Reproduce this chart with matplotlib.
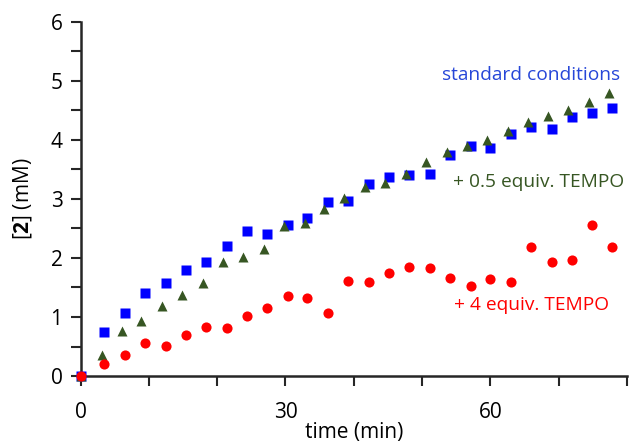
import matplotlib.pyplot as plt
from matplotlib.ticker import MultipleLocator

# values
t_std = [0, 3.5, 6.5, 9.5, 12.5, 15.4, 18.4, 21.4, 24.3, 27.3, 30.3, 33.2, 36.2, 39.2,
         42.2, 45.2, 48.1, 51.1, 54.1, 57.1, 60.0, 63.0, 66.0, 69.0, 71.9, 74.9, 77.8]
c_std = [0, 0.74, 1.06, 1.40, 1.57, 1.79, 1.93, 2.21, 2.45, 2.40, 2.55, 2.67, 2.94, 2.97,
         3.26, 3.37, 3.41, 3.42, 3.74, 3.89, 3.86, 4.10, 4.22, 4.18, 4.39, 4.46, 4.54]

t_half = [0, 3.1, 6.0, 8.9, 11.9, 14.9, 17.9, 20.9, 23.8, 26.8, 29.8, 32.8, 35.7, 38.6,
          41.6, 44.6, 47.7, 50.6, 53.6, 56.5, 59.5, 62.5, 65.5, 68.4, 71.3, 74.4, 77.4]
c_half = [0, 0.36, 0.76, 0.93, 1.19, 1.37, 1.58, 1.93, 2.02, 2.16, 2.54, 2.60, 2.83, 3.02,
          3.20, 3.27, 3.42, 3.63, 3.79, 3.89, 4.00, 4.15, 4.30, 4.40, 4.51, 4.65, 4.80]

t_four = t_std
c_four = [0, 0.21, 0.36, 0.56, 0.51, 0.69, 0.83, 0.82, 1.02, 1.16, 1.36, 1.33, 1.06, 1.61,
          1.60, 1.75, 1.85, 1.83, 1.66, 1.53, 1.64, 1.59, 2.18, 1.93, 1.96, 2.55, 2.18]

BLUE = '#0000ff'
GREEN = '#375623'
RED = '#ff0000'

plt.rcParams['font.family'] = ['Open Sans', 'DejaVu Sans']
plt.rcParams['mathtext.fontset'] = 'custom'
plt.rcParams['mathtext.rm'] = 'Open Sans'
plt.rcParams['mathtext.bf'] = 'Open Sans:bold'

fig = plt.figure(figsize=(6.29, 4.45), dpi=100)
ax = fig.add_axes([0.128, 0.155, 0.869, 0.796])

ax.plot(t_std, c_std, 's', color=BLUE, ms=7, mec='none', zorder=3, clip_on=False)
ax.plot(t_half, c_half, '^', color=GREEN, ms=7.5, mec='none', zorder=3, clip_on=False)
ax.plot(t_four, c_four, 'o', color=RED, ms=7.3, mec='none', zorder=4, clip_on=False)

ax.text(79.0, 5.1, 'standard conditions', color='#2646d8', fontsize=13.8,
        ha='right', va='center')
ax.text(79.5, 3.28, '+ 0.5 equiv. TEMPO', color=GREEN, fontsize=13.8,
        ha='right', va='center')
ax.text(77.3, 1.2, '+ 4 equiv. TEMPO', color=RED, fontsize=13.8,
        ha='right', va='center')

ax.set_xlim(0, 80)
ax.set_ylim(0, 6)
ax.xaxis.set_major_locator(MultipleLocator(30))
ax.xaxis.set_minor_locator(MultipleLocator(10))
ax.yaxis.set_major_locator(MultipleLocator(1))
ax.yaxis.set_minor_locator(MultipleLocator(0.5))

for s in ['top', 'right']:
    ax.spines[s].set_visible(False)
for s in ['left', 'bottom']:
    ax.spines[s].set_linewidth(1.8)
    ax.spines[s].set_color('#262626')

ax.tick_params(which='both', direction='out', length=7, width=1.5, color='#262626')
ax.tick_params(which='major', labelsize=15, pad=6)
ax.tick_params(axis='x', which='major', pad=12)

ax.set_xlabel('time (min)', fontsize=15, labelpad=-1)
ax.set_ylabel(r'[$\mathbf{2}$] (mM)', fontsize=15, labelpad=12)

fig.savefig('out.png', dpi=100)
